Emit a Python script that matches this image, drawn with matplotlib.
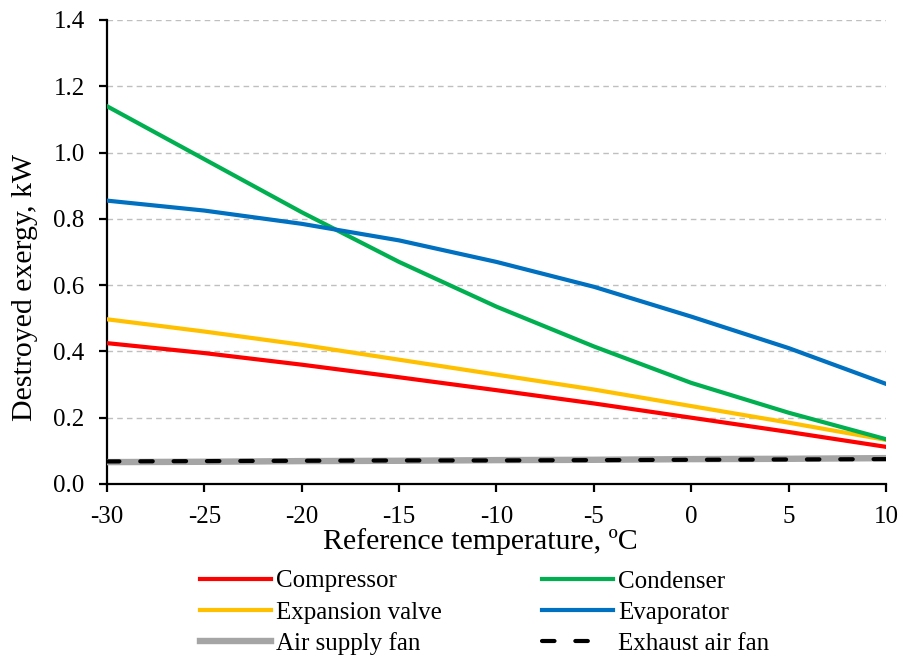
import matplotlib
matplotlib.use("Agg")
import matplotlib.pyplot as plt

plt.rcParams['font.family'] = ['Liberation Serif', 'DejaVu Serif']

temps = [-30, -25, -20, -15, -10, -5, 0, 5, 10]
compressor = [0.425, 0.395, 0.360, 0.322, 0.283, 0.243, 0.200, 0.157, 0.112]
condenser = [1.140, 0.980, 0.820, 0.670, 0.535, 0.415, 0.305, 0.215, 0.135]
expansion_valve = [0.497, 0.460, 0.420, 0.375, 0.330, 0.285, 0.235, 0.185, 0.133]
evaporator = [0.855, 0.825, 0.785, 0.735, 0.670, 0.595, 0.505, 0.410, 0.302]
air_supply_fan = [0.066, 0.067, 0.069, 0.070, 0.072, 0.073, 0.075, 0.076, 0.078]
exhaust_air_fan = [0.068, 0.069, 0.070, 0.071, 0.071, 0.072, 0.073, 0.074, 0.075]

x_ticks = [-30, -25, -20, -15, -10, -5, 0, 5, 10]
y_ticks = [0.0, 0.2, 0.4, 0.6, 0.8, 1.0, 1.2, 1.4]

fig = plt.figure(figsize=(9.06, 6.6), dpi=100)
ax = fig.add_axes([0.118, 0.2667, 0.860, 0.703])

lw = 3.0
ax.plot(temps, air_supply_fan, color='#a5a5a5', lw=4.6, label='Air supply fan', zorder=3)
ax.plot(temps, exhaust_air_fan, color='black', lw=lw, ls=(0, (3.0, 5.0)),
        dash_capstyle='round', label='Exhaust air fan', zorder=4)
ax.plot(temps, compressor, color='#ff0000', lw=lw, label='Compressor', zorder=5)
ax.plot(temps, expansion_valve, color='#ffc000', lw=lw, label='Expansion valve', zorder=5)
ax.plot(temps, condenser, color='#00b050', lw=lw, label='Condenser', zorder=5)
ax.plot(temps, evaporator, color='#0070c0', lw=lw, label='Evaporator', zorder=5)

ax.set_xlim(-30, 10)
ax.set_ylim(0, 1.4)
ax.set_xticks(x_ticks)
ax.set_xticklabels([str(t) for t in x_ticks])
ax.set_yticks(y_ticks)
ax.set_yticklabels([f"{t:.1f}" for t in y_ticks])
ax.yaxis.grid(True, color='#bfbfbf', ls=(0, (4, 3)), lw=1.0)
ax.set_axisbelow(True)

for s in ['top', 'right']:
    ax.spines[s].set_visible(False)
for s in ['left', 'bottom']:
    ax.spines[s].set_linewidth(1.6)
ax.tick_params(axis='both', labelsize=18, width=1.6, length=6, direction='out', colors='black')
ax.tick_params(axis='x', pad=10)
ax.tick_params(axis='y', pad=10)

ax.set_xlabel('Reference temperature, ºC', fontsize=21.5)
ax.set_ylabel('Destroyed exergy, kW', fontsize=21.5)
ax.xaxis.label.set_va('center')
ax.yaxis.label.set_va('center')
ax.xaxis.set_label_coords(0.479, -0.123)
ax.yaxis.set_label_coords(-0.105, 0.423)

handles, labels = ax.get_legend_handles_labels()
hmap = dict(zip(labels, handles))
# two-column legend, filled column by column
col_order = ['Compressor', 'Expansion valve', 'Air supply fan',
             'Condenser', 'Evaporator', 'Exhaust air fan']
leg = fig.legend([hmap[k] for k in col_order], col_order, loc='upper left',
                 bbox_to_anchor=(200 / 906, 1 - 570 / 660), ncol=2, frameon=False,
                 fontsize=18, handlelength=2.85, handletextpad=0.2, columnspacing=4.0,
                 labelspacing=0.34, borderpad=0, borderaxespad=0)

# keep just two whole dashes in the dashed legend sample
dash_line = leg.get_lines()[5]
xd = list(dash_line.get_xdata())
yd = list(dash_line.get_ydata())
x0, x1 = xd[0], xd[-1]
dash_line.set_data([x0, x0 + 0.72 * (x1 - x0)], [yd[0], yd[0]])

fig.savefig('out.png', dpi=100)
